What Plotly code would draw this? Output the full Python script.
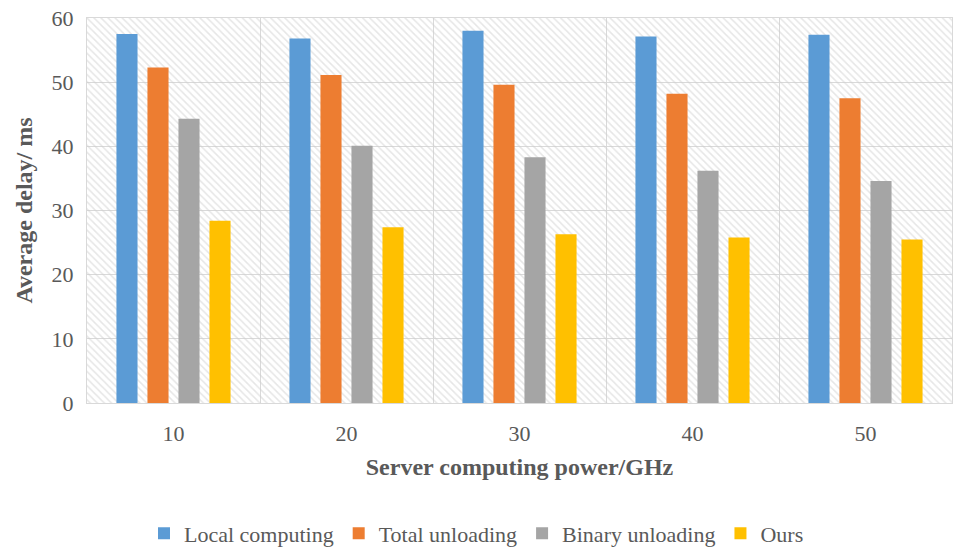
import plotly.graph_objects as go

categories = ["10", "20", "30", "40", "50"]
local_computing = [57.5, 56.8, 58.0, 57.1, 57.4]
total_unloading = [52.3, 51.1, 49.6, 48.2, 47.5]
binary_unloading = [44.3, 40.1, 38.3, 36.2, 34.6]
ours = [28.4, 27.4, 26.3, 25.8, 25.5]

series = [
    ("Local computing", local_computing, "#5B9BD5"),
    ("Total unloading", total_unloading, "#ED7D31"),
    ("Binary unloading", binary_unloading, "#A5A5A5"),
    ("Ours", ours, "#FFC000"),
]

font_family = "Liberation Serif"
fig = go.Figure()

# hatched plot background
fig.add_trace(go.Bar(
    x=[2.5], y=[60], width=[5], xaxis="x", yaxis="y",
    marker=dict(color="rgba(0,0,0,0)", line=dict(width=0),
                pattern=dict(shape="\\", fgcolor="#cdcdcd", size=5, solidity=0.3, fillmode="overlay")),
    showlegend=False, hoverinfo="skip",
))

for name, vals, color in series:
    fig.add_trace(go.Bar(
        x=categories, y=vals, name=name, xaxis="x2", yaxis="y",
        marker=dict(color=color, line=dict(width=0)),
    ))

fig.update_layout(
    width=953, height=550,
    margin=dict(l=87, r=1, t=18, b=147),
    paper_bgcolor="white", plot_bgcolor="white",
    barmode="group", bargap=0.283, bargroupgap=0.32,
    font=dict(family=font_family, color="#595959", size=18),
    xaxis=dict(range=[0, 5], tickvals=[0, 1, 2, 3, 4, 5], showticklabels=False,
               showgrid=True, gridcolor="#d9d9d9", gridwidth=1, zeroline=False,
               showline=True, linecolor="#d9d9d9", linewidth=1, mirror=True, ticks=""),
    xaxis2=dict(overlaying="x", side="bottom", type="category", range=[-0.5, 4.5],
                showgrid=False, zeroline=False, showline=False,
                tickfont=dict(size=22, color="#595959", family=font_family),
                ticks="outside", ticklen=11, tickcolor="rgba(0,0,0,0)",
                title=dict(text="<b>Server computing power/GHz</b>",
                           font=dict(size=24, color="#595959", family=font_family),
                           standoff=12)),
    yaxis=dict(range=[0, 60], dtick=10, showgrid=True, gridcolor="#d9d9d9", gridwidth=1,
               zeroline=False, showline=True, linecolor="#d9d9d9", mirror=True,
               ticks="outside", ticklen=8, tickcolor="rgba(0,0,0,0)",
               tickfont=dict(size=22, color="#595959", family=font_family),
               title=dict(text="<b>Average delay/ ms</b>",
                          font=dict(size=24, color="#595959", family=font_family),
                          standoff=12)),
    legend=dict(orientation="h", xref="container", yref="container",
                x=0.5, xanchor="center", y=0.03, yanchor="middle",
                font=dict(size=22, color="#595959", family=font_family),
                itemwidth=30, traceorder="normal"),
)

fig.write_html("out.html", config={"displayModeBar": False},
               post_script="document.body.style.margin='0';")
